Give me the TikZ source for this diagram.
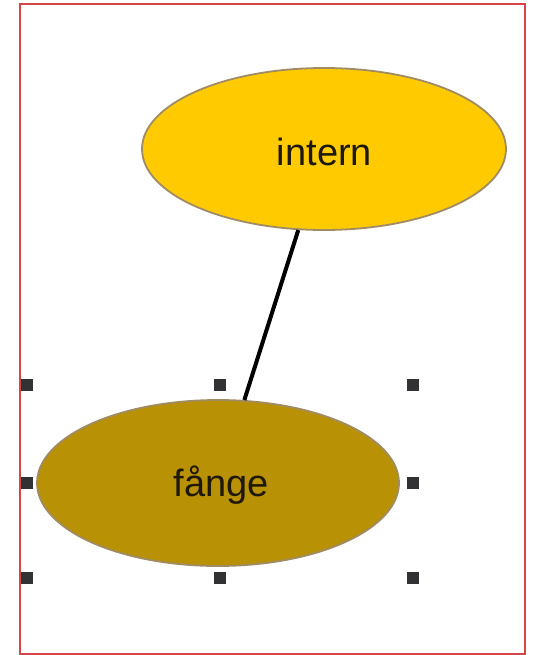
\documentclass[tikz,border=0pt]{standalone}
\usepackage{fontspec}
\setmainfont{Liberation Sans}
\usetikzlibrary{shapes.geometric}
\definecolor{frame}{RGB}{214,70,70}
\definecolor{topfill}{RGB}{255,203,0}
\definecolor{botfill}{RGB}{185,145,4}
\definecolor{rim}{RGB}{160,140,100}
\definecolor{handlecol}{RGB}{50,50,52}
\definecolor{txt}{RGB}{30,24,10}
\tikzset{
  oval/.style={ellipse, draw=rim, line width=1.8pt, inner sep=0pt,
    font=\fontsize{38}{40}\selectfont, text=txt},
  handle/.style={rectangle, fill=handlecol, minimum size=12pt, inner sep=0pt},
  link/.style={line width=4pt, black}
}
\begin{document}
\begin{tikzpicture}[x=1pt,y=-1pt]
\useasboundingbox (0,0) rectangle (536,655);
\fill[white] (0,0) rectangle (536,655);
\draw[frame, line width=1.5pt] (20,4) rectangle (525,654);
\node[oval, fill=topfill, minimum width=364pt, minimum height=162pt] (intern) at (324,149) {};
\node[oval, fill=botfill, minimum width=362pt, minimum height=166pt] (fange) at (218,483) {};
\node[font=\fontsize{38}{40}\selectfont, text=txt, inner sep=0pt] (tintern) at (324.5,152) {intern};
\node[font=\fontsize{38}{40}\selectfont, text=txt, inner sep=0pt] (tfange) at (221,485) {fånge};
\draw[link] (intern) -- (fange);
\node[handle] (h1) at (27,385) {};
\node[handle] (h2) at (220,385) {};
\node[handle] (h3) at (413,385) {};
\node[handle] (h4) at (27,483) {};
\node[handle] (h5) at (413,483) {};
\node[handle] (h6) at (27,578) {};
\node[handle] (h7) at (220,578) {};
\node[handle] (h8) at (413,578) {};
\end{tikzpicture}
\end{document}
